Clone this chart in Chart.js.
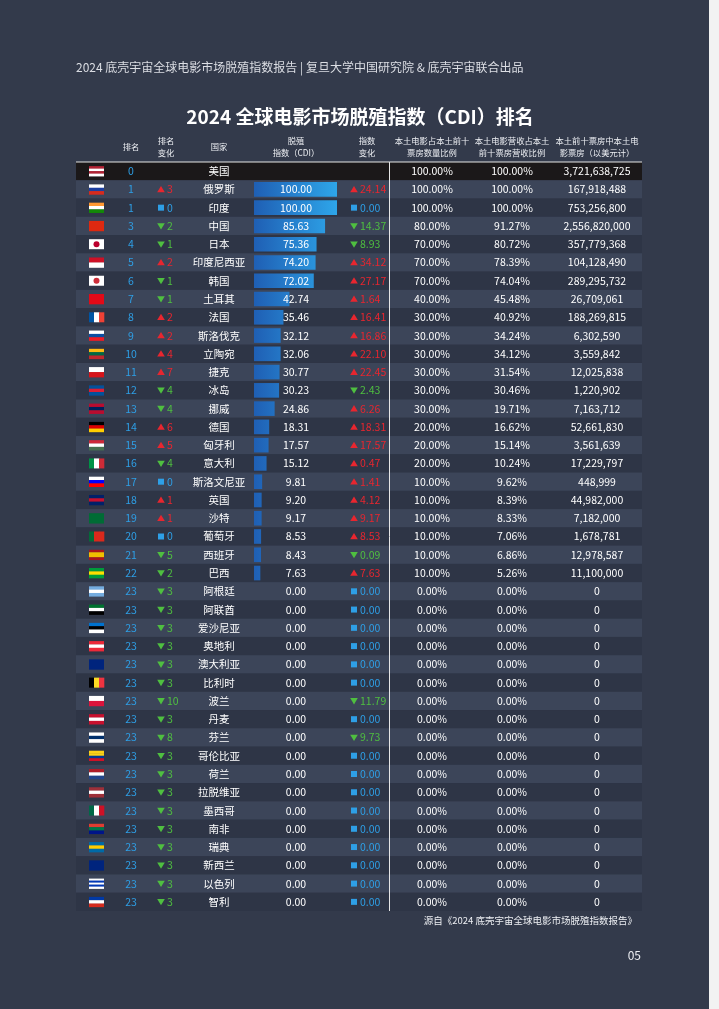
<!DOCTYPE html>
<html><head><meta charset="utf-8">
<script src="https://cdn.jsdelivr.net/npm/chart.js@4"></script>
<style>html,body{margin:0;padding:0;background:#333a4b;overflow:hidden}#wrap{width:719px;height:1009px;position:relative}#edge{position:absolute;left:709px;top:0;width:10px;height:1009px;background:#f2f2f2}</style>
</head><body><div id="wrap"><canvas id="cdi" width="719" height="1009"></canvas><div id="edge"></div></div>
<script>
var countries = ['美国','俄罗斯','印度','中国','日本','印度尼西亚','韩国','土耳其','法国','斯洛伐克','立陶宛','捷克','冰岛','挪威','德国','匈牙利','意大利','斯洛文尼亚','英国','沙特','葡萄牙','西班牙','巴西','阿根廷','阿联酋','爱沙尼亚','奥地利','澳大利亚','比利时','波兰','丹麦','芬兰','哥伦比亚','荷兰','拉脱维亚','墨西哥','南非','瑞典','新西兰','以色列','智利'];
var ranks = [0,1,1,3,4,5,6,7,8,9,10,11,12,13,14,15,16,17,18,19,20,21,22,23,23,23,23,23,23,23,23,23,23,23,23,23,23,23,23,23,23];
var rankChange = [null,3,0,-2,-1,2,-1,-1,2,2,4,7,-4,-4,6,5,-4,0,1,1,0,-5,-2,-3,-3,-3,-3,-3,-3,-10,-3,-8,-3,-3,-3,-3,-3,-3,-3,-3,-3];
var cdi = [null,100,100,85.63,75.36,74.20,72.02,42.74,35.46,32.12,32.06,30.77,30.23,24.86,18.31,17.57,15.12,9.81,9.20,9.17,8.53,8.43,7.63,0,0,0,0,0,0,0,0,0,0,0,0,0,0,0,0,0,0];
var cdiChange = [null,24.14,0,-14.37,-8.93,34.12,27.17,1.64,16.41,16.86,22.10,22.45,-2.43,6.26,18.31,17.57,0.47,1.41,4.12,9.17,8.53,-0.09,7.63,0,0,0,0,0,0,-11.79,0,-9.73,0,0,0,0,0,0,0,0,0];
var filmShare = [100,100,100,80,70,70,70,40,30,30,30,30,30,30,20,20,20,10,10,10,10,10,10,0,0,0,0,0,0,0,0,0,0,0,0,0,0,0,0,0,0];
var revenueShare = [100,100,100,91.27,80.72,78.39,74.04,45.48,40.92,34.24,34.12,31.54,30.46,19.71,16.62,15.14,10.24,9.62,8.39,8.33,7.06,6.86,5.26,0,0,0,0,0,0,0,0,0,0,0,0,0,0,0,0,0,0];
var boxOffice = ['3,721,638,725','167,918,488','753,256,800','2,556,820,000','357,779,368','104,128,490','289,295,732','26,709,061','188,269,815','6,302,590','3,559,842','12,025,838','1,220,902','7,163,712','52,661,830','3,561,639','17,229,797','448,999','44,982,000','7,182,000','1,678,781','12,978,587','11,100,000','0','0','0','0','0','0','0','0','0','0','0','0','0','0','0','0','0','0'];
// simple flag stripes: h = horizontal, v = vertical, j = disc
var flags = [
 ['h','#b22234','#ffffff','#b22234','#ffffff'],['h','#ffffff','#1c3fa0','#d52b1e'],['h','#ff9933','#ffffff','#138808'],['h','#de2910'],
 ['j','#ffffff','#bc002d'],['h','#ce1126','#ffffff'],['j','#ffffff','#cd2e3a'],['h','#e30a17'],['v','#0055a4','#ffffff','#ef4135'],
 ['h','#ffffff','#0b4ea2','#ee1c25'],['h','#fdb913','#006a44','#c1272d'],['h','#ffffff','#d7141a'],['h','#02529c','#dc1e35','#02529c'],
 ['h','#ba0c2f','#00205b','#ba0c2f'],['h','#000000','#dd0000','#ffce00'],['h','#ce2939','#ffffff','#477050'],['v','#009246','#ffffff','#ce2b37'],
 ['h','#ffffff','#0000ff','#ff0000'],['h','#012169','#c8102e','#012169'],['h','#006c35'],['v','#046a38','#da291c','#da291c'],
 ['h','#aa151b','#f1bf00','#f1bf00','#aa151b'],['h','#009c3b','#ffdf00','#009c3b'],['h','#74acdf','#ffffff','#74acdf'],['h','#00732f','#ffffff','#000000'],
 ['h','#0072ce','#000000','#ffffff'],['h','#ed2939','#ffffff','#ed2939'],['h','#00247d'],['v','#000000','#fdda24','#ef3340'],
 ['h','#ffffff','#dc143c'],['h','#c8102e','#ffffff','#c8102e'],['h','#ffffff','#002f6c','#ffffff'],['h','#fcd116','#fcd116','#003893','#ce1126'],
 ['h','#ae1c28','#ffffff','#21468b'],['h','#9e3039','#ffffff','#9e3039'],['v','#006847','#ffffff','#ce1126'],['h','#e03c31','#007749','#001489'],
 ['h','#006aa7','#fecc00','#006aa7'],['h','#00247d'],['h','#ffffff','#0038b8','#ffffff','#0038b8','#ffffff'],['h','#0039a6','#ffffff','#d52b1e']
];
var headers = [['排名'],['排名','变化'],['国家'],['脱殖','指数（CDI）'],['指数','变化'],['本土电影占本土前十','票房数量比例'],['本土电影营收占本土','前十票房营收比例'],['本土前十票房中本土电','影票房（以美元计）']];

var FONT = '"Noto Sans CJK SC","Noto Sans",sans-serif';
var BLUE = '#2e9fe6', RED = '#e8262f', GREEN = '#4fbf40';

function drawMark(c, x, y, v) {
  c.fillStyle = v > 0 ? RED : (v < 0 ? GREEN : BLUE);
  c.beginPath();
  if (v > 0) { c.moveTo(x, y - 3.5); c.lineTo(x + 3.8, y + 2.8); c.lineTo(x - 3.8, y + 2.8); }
  else if (v < 0) { c.moveTo(x - 3.8, y - 2.8); c.lineTo(x + 3.8, y - 2.8); c.lineTo(x, y + 3.5); }
  else { c.rect(x - 3, y - 3, 6, 6); }
  c.fill();
  return c.fillStyle;
}

var tablePlugin = {
  id: 'table',
  beforeDatasetsDraw: function(chart) {
    var c = chart.ctx, ys = chart.scales.y, h = ys.getPixelForValue(1) - ys.getPixelForValue(0);
    c.save();
    c.fillStyle = '#dcdee4'; c.font = '12px ' + FONT; c.textBaseline = 'middle';
    c.fillText('2024 底壳宇宙全球电影市场脱殖指数报告 | 复旦大学中国研究院 & 底壳宇宙联合出品', 76, 67);
    c.fillStyle = '#ffffff'; c.font = 'bold 19px ' + FONT; c.textAlign = 'center';
    c.fillText('2024 全球电影市场脱殖指数（CDI）排名', 360, 117);
    var hx = [131, 166, 219, 296, 367, 432, 512, 597];
    c.font = '8.3px ' + FONT; c.fillStyle = '#eceef2';
    headers.forEach(function(t, i) {
      if (t.length === 1) c.fillText(t[0], hx[i], 147);
      else { c.fillText(t[0], hx[i], 141); c.fillText(t[1], hx[i], 153); }
    });
    for (var i = 0; i < countries.length; i++) {
      var y = ys.getPixelForValue(i);
      c.fillStyle = i === 0 ? '#1b1819' : (i % 2 ? '#3c4559' : '#2e3546');
      c.fillRect(76, y - h / 2, 566, h);
    }
    c.strokeStyle = '#e6e6e6'; c.lineWidth = 1;
    var top = ys.getPixelForValue(0) - h / 2, bot = ys.getPixelForValue(countries.length - 1) + h / 2;
    c.beginPath(); c.moveTo(76, top); c.lineTo(642, top); c.moveTo(389.5, top); c.lineTo(389.5, bot); c.stroke();
    c.restore();
  },
  afterDatasetsDraw: function(chart) {
    var c = chart.ctx, ys = chart.scales.y;
    c.save(); c.textBaseline = 'middle'; c.textAlign = 'center';
    for (var i = 0; i < countries.length; i++) {
      var y = ys.getPixelForValue(i);
      var f = flags[i], fx = 89, fy = y - 5, fw = 15, fh = 10;
      if (f[0] === 'j') { c.fillStyle = f[1]; c.fillRect(fx, fy, fw, fh); c.fillStyle = f[2]; c.beginPath(); c.arc(fx + 7.5, y, 3, 0, 7); c.fill(); }
      else {
        var n = f.length - 1;
        for (var k = 0; k < n; k++) {
          c.fillStyle = f[k + 1];
          if (f[0] === 'h') c.fillRect(fx, fy + fh * k / n, fw, fh / n + 0.3);
          else c.fillRect(fx + fw * k / n, fy, fw / n + 0.3, fh);
        }
      }
      c.font = '10.5px ' + FONT;
      c.fillStyle = BLUE; c.fillText(String(ranks[i]), 131, y);
      if (rankChange[i] !== null) {
        c.fillStyle = drawMark(c, 161, y, rankChange[i]);
        c.textAlign = 'left'; c.fillText(String(Math.abs(rankChange[i])), 167, y); c.textAlign = 'center';
      }
      c.fillStyle = '#ffffff'; c.fillText(countries[i], 219, y);
      if (cdi[i] !== null) c.fillText(cdi[i].toFixed(2), 296, y);
      if (cdiChange[i] !== null) {
        c.fillStyle = drawMark(c, 354, y, cdiChange[i]);
        c.textAlign = 'left'; c.fillText(Math.abs(cdiChange[i]).toFixed(2), 360, y); c.textAlign = 'center';
      }
      c.fillStyle = '#ffffff';
      c.fillText(filmShare[i].toFixed(2) + '%', 432, y);
      c.fillText(revenueShare[i].toFixed(2) + '%', 512, y);
      c.fillText(boxOffice[i], 597, y);
    }
    c.font = '9.5px ' + FONT; c.textAlign = 'right'; c.fillStyle = '#eceef2';
    c.fillText('源自《2024 底壳宇宙全球电影市场脱殖指数报告》', 637, 920);
    c.font = '12px ' + FONT; c.fillText('05', 641, 955);
    c.restore();
  }
};

var ctx = document.getElementById('cdi').getContext('2d');
new Chart(ctx, {
  type: 'bar',
  data: {
    labels: countries,
    datasets: [{
      data: cdi,
      backgroundColor: function(context) {
        var a = context.chart.chartArea;
        if (!a) return '#2a8fe0';
        var g = context.chart.ctx.createLinearGradient(a.left, 0, a.right, 0);
        g.addColorStop(0, '#1f5fb4'); g.addColorStop(1, '#2ea6ea');
        return g;
      },
      barPercentage: 0.8,
      categoryPercentage: 1
    }]
  },
  options: {
    indexAxis: 'y',
    responsive: false,
    animation: false,
    devicePixelRatio: 1,
    layout: { padding: { left: 254, right: 382, top: 162, bottom: 98 } },
    plugins: { legend: { display: false }, tooltip: { enabled: false } },
    scales: {
      x: { display: false, min: 0, max: 100 },
      y: { display: false }
    }
  },
  plugins: [tablePlugin]
});
</script>
</body></html>
